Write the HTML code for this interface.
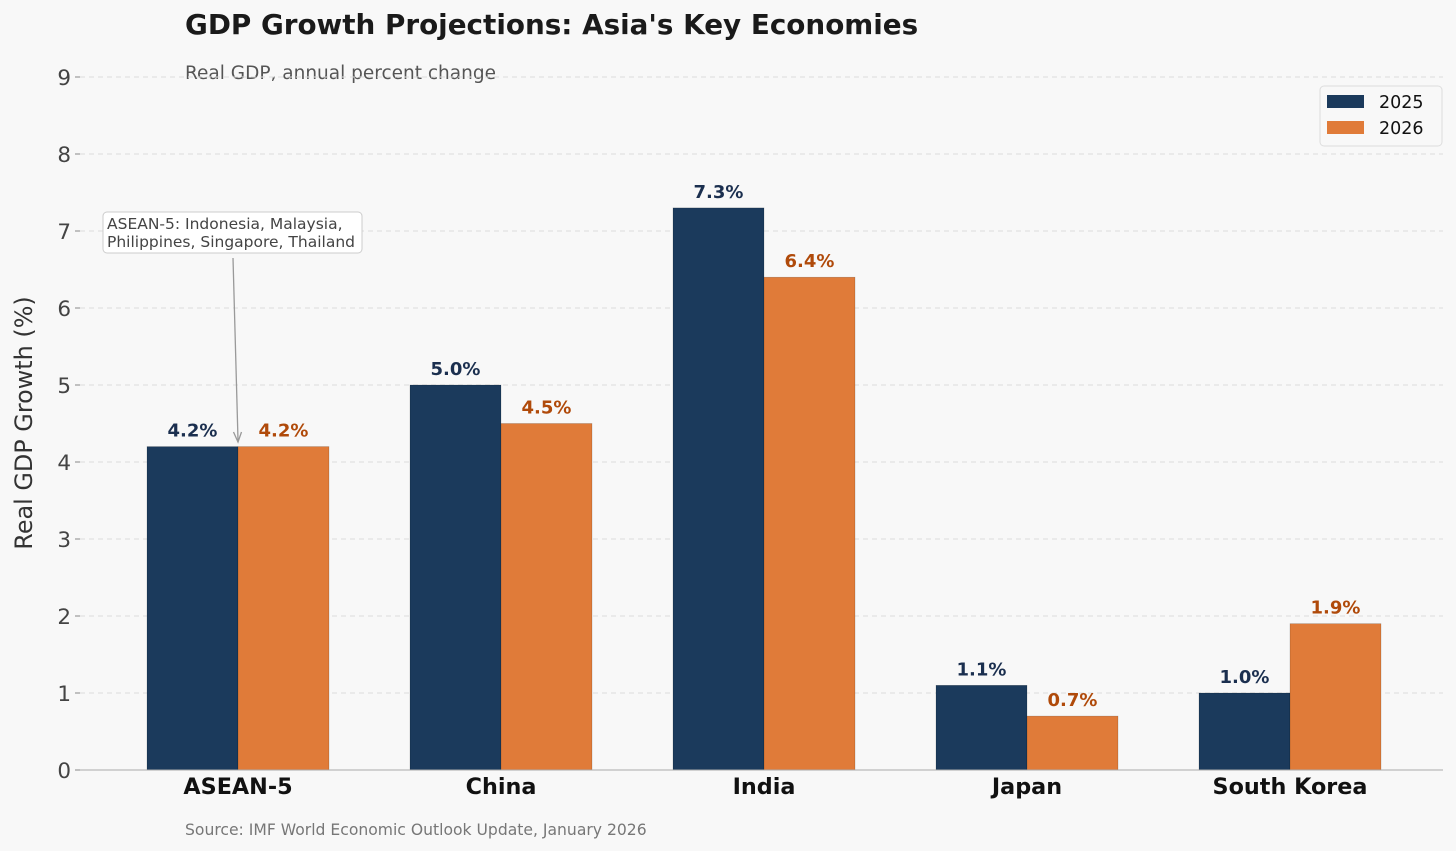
<!DOCTYPE html>
<html><head><meta charset="utf-8"><style>
html,body{margin:0;padding:0;background:#f8f8f8;}
svg{display:block;font-family:"DejaVu Sans","Liberation Sans",sans-serif;}
</style></head><body>
<svg id="chart" width="1456" height="851" viewBox="0 0 1456 851">
<rect width="1456" height="851" fill="#f8f8f8"/>
<text x="185" y="34" font-size="27.8" font-weight="bold" fill="#1a1a1a">GDP Growth Projections: Asia's Key Economies</text>
<text x="185" y="79" font-size="18.5" fill="#555">Real GDP, annual percent change</text>
<g id="grid"></g>
<g id="bars"></g>
<line x1="80" y1="770" x2="1443" y2="770" stroke="#aaa" stroke-width="1"/>
<text transform="translate(32,423) rotate(-90)" text-anchor="middle" font-size="23.9" fill="#333">Real GDP Growth (%)</text>
<text x="185" y="835" font-size="15.6" fill="#777">Source: IMF World Economic Outlook Update, January 2026</text>
<g>
<rect x="103" y="212" width="259" height="41" rx="4" fill="#fff" stroke="#ccc"/>
<text x="107" y="229" font-size="15.5" fill="#444">ASEAN-5: Indonesia, Malaysia,</text>
<text x="107" y="247" font-size="15.5" fill="#444">Philippines, Singapore, Thailand</text>
<line x1="233" y1="258" x2="238" y2="440" stroke="#999" stroke-width="1.3"/>
<path d="M233.5,432 L238,442 L241.5,432" fill="none" stroke="#999" stroke-width="1.3"/>
</g>
<g>
<rect x="1320" y="86" width="122" height="60" rx="4" fill="#f8f8f8" stroke="#ddd"/>
<rect x="1327" y="95" width="37" height="13" fill="#1b3a5c"/>
<text x="1379" y="108" font-size="17.5" fill="#111">2025</text>
<rect x="1327" y="121" width="37" height="13" fill="#e07b39"/>
<text x="1379" y="134" font-size="17.5" fill="#111">2026</text>
</g>
</svg>
<script>
const categories = ["ASEAN-5","China","India","Japan","South Korea"];
const values2025 = [4.2,5.0,7.3,1.1,1.0];
const values2026 = [4.2,4.5,6.4,0.7,1.9];
const yTicks = [0,1,2,3,4,5,6,7,8,9];

const NS="http://www.w3.org/2000/svg";
const y0=770, pxPerUnit=77;
function yScale(v){return y0 - v*pxPerUnit;}
function xCenter(i){return 238 + i*263;}
const bw=91;
const grid=document.getElementById('grid'), bars=document.getElementById('bars');
function mk(tag,attrs,parent){const e=document.createElementNS(NS,tag);for(const k in attrs)e.setAttribute(k,attrs[k]);parent.appendChild(e);return e;}
yTicks.forEach(t=>{
  const y=yScale(t);
  if(t>0){const l=mk('line',{x1:80,x2:1443,y1:y,y2:y,stroke:'#ddd','stroke-dasharray':'5,4'},grid);
  
  }
  const tk=mk('line',{x1:75,x2:80,y1:y,y2:y,stroke:'#888'},grid);
  
  
  const tx=mk('text',{x:71,y:y+8,'text-anchor':'end','font-size':21.5,fill:'#444'},grid);
  tx.textContent=t;
  
  
});
categories.forEach((c,i)=>{
  const cx=xCenter(i);
  [[values2025,-bw,'#1b3a5c','#1b2f4f','2025'],[values2026,0,'#e07b39','#b04a0a','2026']].forEach(([arr,off,col,tcol,yr])=>{
    const v=arr[i], y=yScale(v);
    const r=mk('rect',{x:cx+off,y:y,width:bw,height:y0-y,fill:col,stroke:'rgba(0,0,0,0.25)','stroke-width':0.6},bars);
    
    
    const t=mk('text',{x:cx+off+bw/2,y:y-10,'text-anchor':'middle','font-size':18,'font-weight':'bold',fill:tcol},bars);
    t.textContent=v.toFixed(1)+'%';
    
    
  });
  const lb=mk('text',{x:cx,y:794,'text-anchor':'middle','font-size':22.3,'font-weight':'bold',fill:'#111'},bars);
  lb.textContent=c;
  
  
});
</script>
</body></html>
